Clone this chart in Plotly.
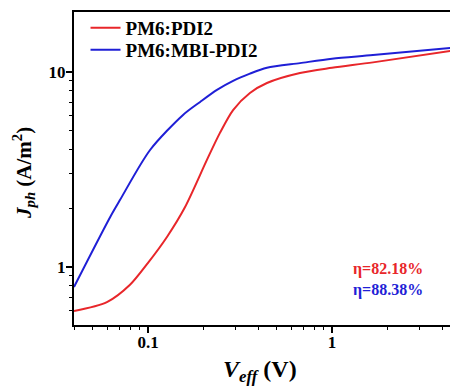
import plotly.graph_objects as go
import math

# Data
pdi2_v = [0.0396, 0.0598, 0.0798, 0.1, 0.127, 0.159, 0.209, 0.246, 0.290, 0.358, 0.443, 0.670, 1.0, 1.67, 4.84]
pdi2_j = [0.594, 0.66, 0.81, 1.05, 1.43, 2.03, 3.54, 4.87, 6.38, 7.80, 8.78, 9.88, 10.5, 11.2, 13.0]

mbi_v = [0.0396, 0.0622, 0.0705, 0.1026, 0.155, 0.192, 0.237, 0.290, 0.358, 0.443, 0.670, 1.0, 1.67, 4.84]
mbi_j = [0.79, 1.80, 2.21, 3.98, 6.02, 7.02, 8.09, 9.0, 9.8, 10.5, 11.1, 11.7, 12.2, 13.4]

series_names = ["PM6:PDI2", "PM6:MBI-PDI2"]
series_colors = ["#e8262a", "#1f1fd6"]
eta_labels = ["η=82.18%", "η=88.38%"]

x_tickvals = [0.1, 1]
x_ticktext = ["<b>0.1</b>", "<b>1</b>"]
x_minor = [0.04, 0.05, 0.06, 0.07, 0.08, 0.09, 0.2, 0.3, 0.4, 0.5, 0.6, 0.7, 0.8, 0.9, 2, 3, 4]
y_tickvals = [1, 10]
y_ticktext = ["<b>1</b>", "<b>10</b>"]
y_minor = [0.6, 0.7, 0.8, 0.9, 2, 3, 4, 5, 6, 7, 8, 9]

FONT = "Liberation Serif"

fig = go.Figure()
for v, j, name, col, lg in [(pdi2_v, pdi2_j, series_names[0], series_colors[0], "legend"),
                            (mbi_v, mbi_j, series_names[1], series_colors[1], "legend2")]:
    fig.add_trace(go.Scatter(x=v, y=j, mode="lines", name="<b>" + name + "</b>", legend=lg,
                             line=dict(color=col, width=2, shape="spline", smoothing=0.8)))

axis_common = dict(
    showline=True, linecolor="black", linewidth=2,
    ticks="outside", ticklen=6, tickwidth=1.5, tickcolor="black",
    showgrid=False, zeroline=False, automargin=False,
    tickfont=dict(family=FONT, size=17, color="black"),
)

fig.update_xaxes(type="log", range=[math.log10(0.0396), math.log10(4.84)],
                 tickmode="array", tickvals=x_tickvals, ticktext=x_ticktext,
                 mirror=True, ticklabelstandoff=-5,
                 minor=dict(tickmode="array", tickvals=x_minor, ticks="outside",
                            ticklen=3, tickwidth=1.2, tickcolor="black", showgrid=False),
                 **axis_common)
fig.update_yaxes(type="log", range=[math.log10(0.504), math.log10(20.3)],
                 tickmode="array", tickvals=y_tickvals, ticktext=y_ticktext,
                 mirror=False, ticklabelstandoff=-3,
                 minor=dict(tickmode="array", tickvals=y_minor, ticks="outside",
                            ticklen=3, tickwidth=1.2, tickcolor="black", showgrid=False),
                 **axis_common)

annotations = [
    dict(text="<b>" + eta_labels[0] + "</b>", x=0.818, y=0.179, xref="paper", yref="paper",
         xanchor="center", yanchor="middle",
         showarrow=False, font=dict(family=FONT, size=16, color=series_colors[0])),
    dict(text="<b>" + eta_labels[1] + "</b>", x=0.818, y=0.112, xref="paper", yref="paper",
         xanchor="center", yanchor="middle",
         showarrow=False, font=dict(family=FONT, size=16, color=series_colors[1])),
    dict(text="<b><i>V</i><sub><i>eff</i></sub> (V)</b>", x=0.484, y=-0.147, xref="paper", yref="paper",
         xanchor="center", yanchor="middle",
         showarrow=False, font=dict(family=FONT, size=24, color="black")),
    dict(text="<b><i>J</i><sub><i>ph</i></sub> (A/m<sup>2</sup>)</b>", x=-0.13, y=0.486, xref="paper", yref="paper",
         xanchor="center", yanchor="middle",
         textangle=-90, showarrow=False, font=dict(family=FONT, size=21, color="black")),
]

legend_common = dict(xanchor="left", yanchor="top", bgcolor="rgba(0,0,0,0)", borderwidth=0,
                     font=dict(family=FONT, size=19, color="black"), itemwidth=30)

fig.update_layout(
    width=450, height=379,
    margin=dict(l=66, r=0, t=4, b=62, autoexpand=False),
    paper_bgcolor="white", plot_bgcolor="white",
    font=dict(family=FONT),
    showlegend=True,
    legend=dict(x=0.03, y=1.01, **legend_common),
    legend2=dict(x=0.03, y=0.94, **legend_common),
    annotations=annotations,
)

fig.write_html("out.html")
